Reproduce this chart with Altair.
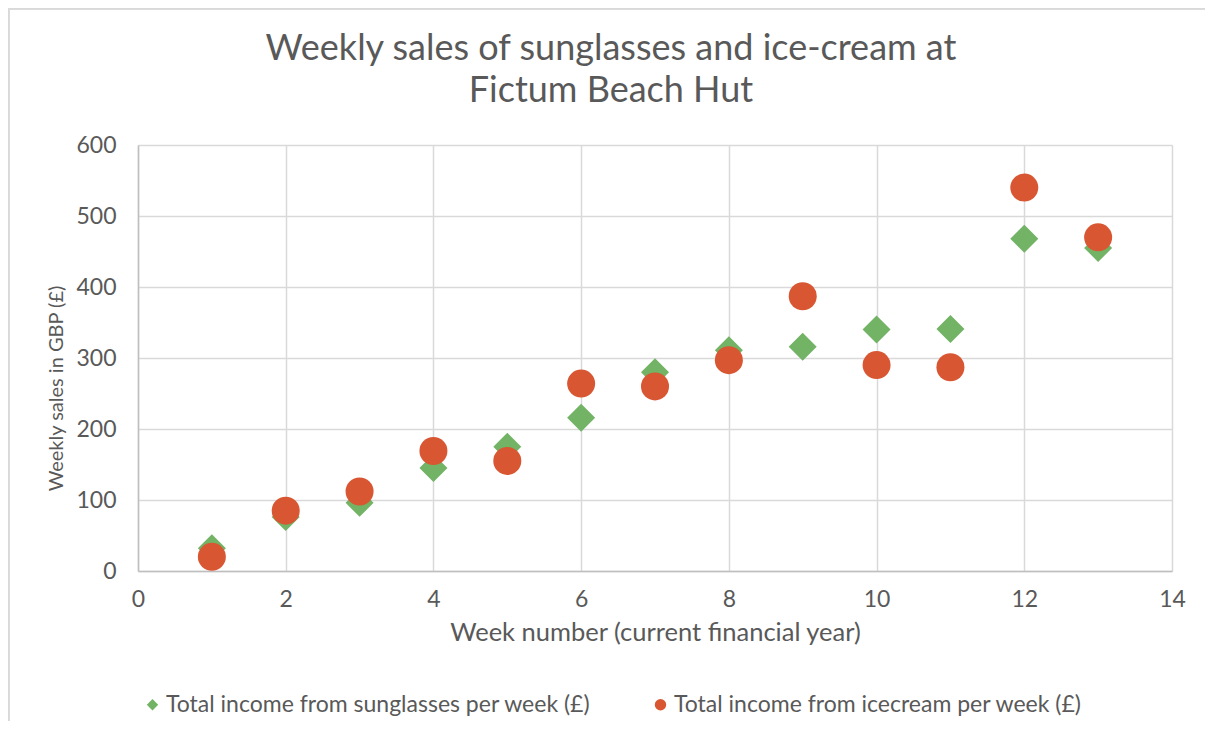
import altair as alt
import pandas as pd

weeks = [1, 2, 3, 4, 5, 6, 7, 8, 9, 10, 11, 12, 13]
sunglasses = [32, 76, 96, 145, 175, 216, 280, 311, 316, 340, 341, 468, 455]
icecream = [20, 85, 112, 169, 155, 264, 260, 297, 387, 290, 287, 540, 470]
series_names = ["Total income from sunglasses per week (£)",
                "Total income from icecream per week (£)"]
x_ticks = [0, 2, 4, 6, 8, 10, 12, 14]
y_ticks = [0, 100, 200, 300, 400, 500, 600]

rows = []
for w, v in zip(weeks, sunglasses):
    rows.append({"week": w, "sales": v, "series": series_names[0]})
for w, v in zip(weeks, icecream):
    rows.append({"week": w, "sales": v, "series": series_names[1]})
df = pd.DataFrame(rows)

FONT = "Lato"
TXT = "#595959"
GRID = "#D9D9D9"

points = alt.Chart(df).mark_point(filled=True, opacity=1, size=784).encode(
    x=alt.X("week:Q", scale=alt.Scale(domain=[0, 14], nice=False),
            axis=alt.Axis(title="Week number (current financial year)", values=x_ticks,
                          format="d", labelPadding=17, titlePadding=9, titleFontSize=25.5,
                          labelFlush=False)),
    y=alt.Y("sales:Q", scale=alt.Scale(domain=[0, 600], nice=False),
            axis=alt.Axis(title="Weekly sales in GBP (£)", values=y_ticks,
                          labelPadding=22, titlePadding=9, titleFontSize=20,
                          titleY=243, labelFlush=False)),
    color=alt.Color("series:N", sort=series_names,
                    scale=alt.Scale(domain=series_names, range=["#72B365", "#D85631"]),
                    legend=alt.Legend(title=None, orient="none", direction="horizontal",
                                      legendX=3, legendY=548, symbolSize=130,
                                      labelFontSize=23, labelFont=FONT, labelColor=TXT,
                                      labelLimit=600, columnPadding=58, labelOffset=2,
                                      symbolStrokeWidth=0)),
    shape=alt.Shape("series:N", sort=series_names,
                    scale=alt.Scale(domain=series_names, range=["diamond", "circle"])),
    order=alt.Order("ord:Q"),
).transform_calculate(ord="datum.series == '" + series_names[0] + "' ? 0 : 1")

border_v = alt.Chart(df).mark_rule(color=GRID, strokeWidth=1.5).encode(
    x=alt.value(-129.5), y=alt.value(-136.5), y2=alt.value(600))
border_h = alt.Chart(df).mark_rule(color=GRID, strokeWidth=1.5).encode(
    x=alt.value(-129.5), x2=alt.value(1100), y=alt.value(-136.5))

chart = alt.layer(border_v, border_h, points).properties(
    width=1034, height=426,
    autosize=alt.AutoSizeParams(type="none"),
    padding={"left": 130, "top": 137, "right": 33, "bottom": 150},
    title=alt.Title(["Weekly sales of sunglasses and ice-cream at", "Fictum Beach Hut"],
                    fontSize=36, font=FONT, fontWeight="normal", color=TXT,
                    anchor="middle", dx=-44, offset=30, dy=132, lineHeight=42),
).configure_view(stroke=None).configure_axis(
    labelFont=FONT, titleFont=FONT, labelFontSize=23,
    labelColor=TXT, titleColor=TXT, titleFontWeight="normal",
    grid=True, gridColor=GRID, gridWidth=1.5,
    domainColor="#BFBFBF", domainWidth=1.5, ticks=False, tickSize=0,
)

chart.save("out.html", embed_options={"renderer": "svg", "actions": False})
